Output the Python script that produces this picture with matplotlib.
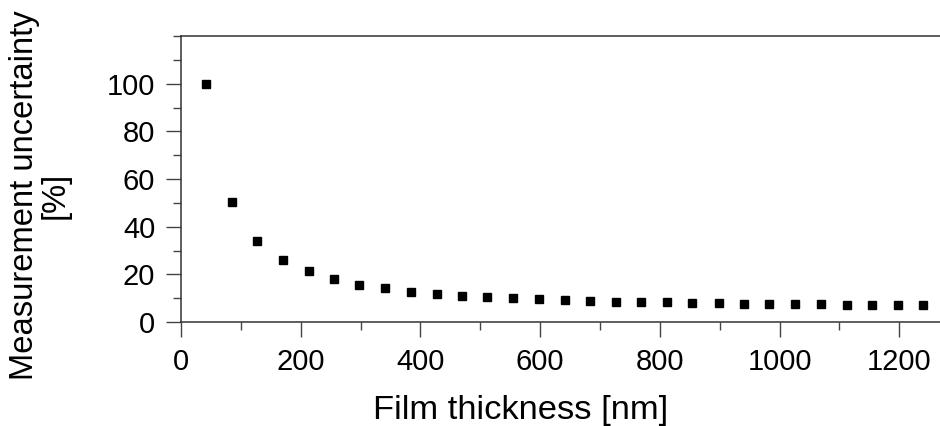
import matplotlib
matplotlib.use("Agg")
from matplotlib import pyplot as plt
from matplotlib.ticker import MultipleLocator

plt.rcParams['font.family'] = ['Liberation Sans', 'DejaVu Sans']

# film thickness [nm]
thickness = [42, 85, 127, 170, 213, 256, 298, 341, 384, 427, 469, 512, 555, 598, 641,
             684, 727, 769, 812, 854, 898, 940, 983, 1026, 1069, 1112, 1154, 1197, 1240]
# measurement uncertainty [%]
uncertainty = [100, 50.2, 34.1, 25.9, 21.2, 18.0, 15.7, 14.1, 12.8, 11.8, 11.1, 10.3, 9.9, 9.5, 9.2,
               8.9, 8.6, 8.4, 8.2, 8.1, 7.9, 7.7, 7.5, 7.4, 7.4, 7.2, 7.2, 7.1, 7.1]

fig = plt.figure(figsize=(9.4, 4.26), dpi=100)
ax = fig.add_axes([0.1926, 0.2441, 0.8074, 0.6714])

ax.plot(thickness, uncertainty, linestyle="none", marker="s", markersize=6, color="black")

ax.set_xlim(0, 1268)
ax.set_ylim(0, 120)
ax.xaxis.set_major_locator(MultipleLocator(200))
ax.xaxis.set_minor_locator(MultipleLocator(100))
ax.yaxis.set_major_locator(MultipleLocator(20))
ax.yaxis.set_minor_locator(MultipleLocator(10))
ax.set_yticks([0, 20, 40, 60, 80, 100])
ax.set_yticklabels(["0", "20", "40", "60", "80", "100"])

ax.spines["right"].set_visible(False)
for s in ["left", "bottom", "top"]:
    ax.spines[s].set_color("#333333")
    ax.spines[s].set_linewidth(1.1)

ax.tick_params(which="major", length=10.5, width=1, color="#444444", labelsize=21, pad=8)
ax.tick_params(which="minor", length=5.5, width=1, color="#444444")

ax.set_xlabel("Film thickness [nm]", fontsize=24.8)
ax.xaxis.set_label_coords(0.447, -0.255)
fig.text(0.0426, 0.542, "Measurement uncertainty\n[%]", fontsize=23.6, rotation=90,
         ha="center", va="center", multialignment="center", linespacing=0.97)

fig.savefig("out.png", dpi=100)
